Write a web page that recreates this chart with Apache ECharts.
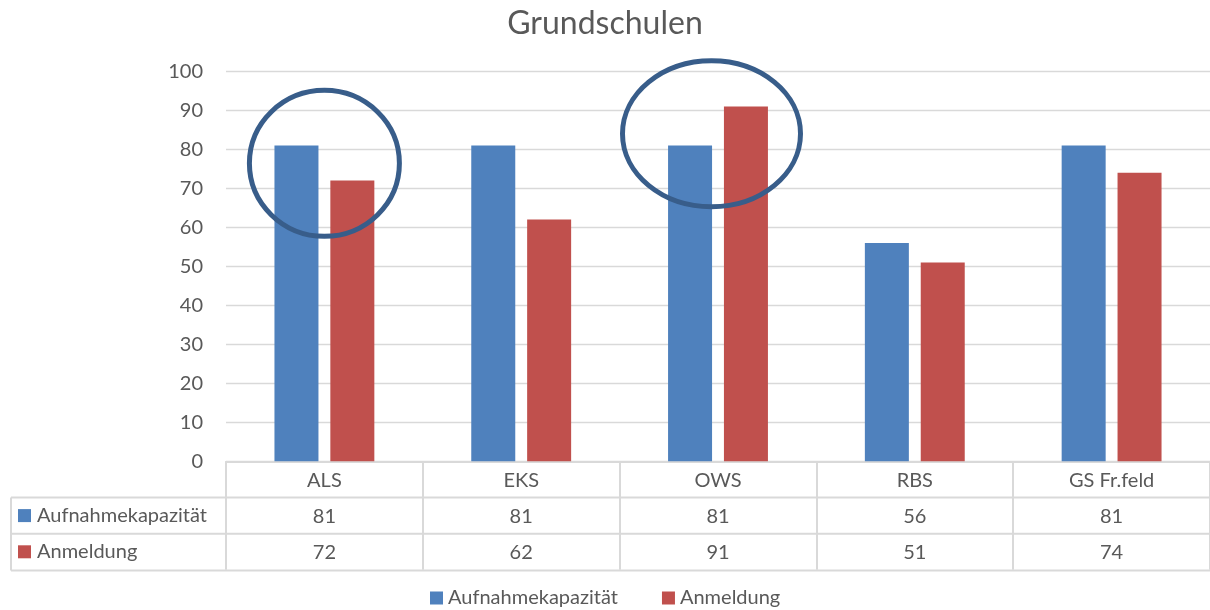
<!DOCTYPE html>
<html><head><meta charset="utf-8">
<script src="https://cdn.jsdelivr.net/npm/echarts@6/dist/echarts.min.js"></script>
<style>html,body{margin:0;padding:0;background:#fff}#c{width:1210px;height:610px}</style>
</head><body><div id="c"></div>
<script>
// ---- data ----
const categories = ['ALS', 'EKS', 'OWS', 'RBS', 'GS Fr.feld'];
const capacity = [81, 81, 81, 56, 81];
const registrations = [72, 62, 91, 51, 74];
const seriesNames = ['Aufnahmekapazität', 'Anmeldung'];
const seriesColors = ['#4F81BD', '#C0504D'];
const titleText = 'Grundschulen';
// hand-drawn highlight ellipses (annotation): centre in data coords
const highlights = [
  { category: 'ALS', value: 76.4, shift: 0, rx: 75, ry: 73 },
  { category: 'OWS', value: 84, shift: -6.5, rx: 89, ry: 73 }
];

// ---- layout ----
const FONT = 'Lato';
const FS = 20;
const TXT = '#595959';
const LINE = '#D9D9D9';
const GRID = { left: 226, right: -3, top: 71.3, bottom: 148.7 };
const ROW = 36.2;
const AXIS_Y = 610 - GRID.bottom;
const TABLE_LEFT = 11;

const chart = echarts.init(document.getElementById('c'), null, { renderer: 'canvas' });

const rowLabelAxis = (offset, values) => ({
  type: 'category', data: categories, position: 'bottom', offset: offset,
  axisLine: { show: false }, axisTick: { show: false }, splitLine: { show: false },
  axisLabel: { margin: 9, fontFamily: FONT, fontSize: FS, color: TXT,
    formatter: (v, i) => String(values[i]) }
});

const option = {
  animation: false,
  backgroundColor: '#fff',
  title: { text: titleText, left: 'center', top: 3,
    textStyle: { fontFamily: FONT, fontSize: 32, fontWeight: 'normal', color: TXT } },
  legend: { data: seriesNames, left: 425, top: 583, icon: 'rect', itemWidth: 13, itemHeight: 13,
    itemGap: 44, textStyle: { fontFamily: FONT, fontSize: FS, color: TXT } },
  grid: GRID,
  xAxis: [
    { type: 'category', data: categories, boundaryGap: true,
      axisLine: { show: true, lineStyle: { color: LINE, width: 2 } },
      axisTick: { show: true, interval: 0, length: 108.4, lineStyle: { color: LINE, width: 2 } },
      axisLabel: { margin: 9, fontFamily: FONT, fontSize: FS, color: TXT, interval: 0 } },
    rowLabelAxis(ROW, capacity),
    rowLabelAxis(ROW * 2, registrations)
  ],
  yAxis: { type: 'value', min: 0, max: 100, interval: 10,
    axisLine: { show: false }, axisTick: { show: false },
    splitLine: { lineStyle: { color: LINE, width: 1.3 } },
    axisLabel: { margin: 23, fontFamily: FONT, fontSize: FS, color: TXT } },
  series: [
    { name: seriesNames[0], type: 'bar', data: capacity, barWidth: 44, barGap: '27%',
      itemStyle: { color: seriesColors[0] } },
    { name: seriesNames[1], type: 'bar', data: registrations, barWidth: 44, barGap: '27%',
      itemStyle: { color: seriesColors[1] } }
  ]
};
chart.setOption(option);

// table lines and row headers
const graphics = [];
for (let r = 1; r <= 3; r++) {
  const y = AXIS_Y + ROW * r - (r === 3 ? -0.5 : 0);
  graphics.push({ type: 'line', shape: { x1: TABLE_LEFT, y1: y, x2: 1210, y2: y },
    style: { stroke: LINE, lineWidth: 2 }, silent: true });
}
graphics.push({ type: 'line', shape: { x1: TABLE_LEFT, y1: AXIS_Y + ROW, x2: TABLE_LEFT, y2: AXIS_Y + ROW * 3 + 0.5 },
  style: { stroke: LINE, lineWidth: 2 }, silent: true });
seriesNames.forEach((name, i) => {
  const cy = AXIS_Y + ROW * (i + 1.5);
  graphics.push({ type: 'rect', shape: { x: 18, y: cy - 6.5, width: 13, height: 13 },
    style: { fill: seriesColors[i] }, silent: true });
  graphics.push({ type: 'text', x: 37, y: cy,
    style: { text: name, fontFamily: FONT, fontSize: FS, fill: TXT, verticalAlign: 'middle', align: 'left' }, silent: true });
});
highlights.forEach(h => {
  const p = chart.convertToPixel({ xAxisIndex: 0, yAxisIndex: 0 }, [h.category, h.value]);
  graphics.push({ type: 'ellipse', shape: { cx: p[0] + h.shift, cy: p[1], rx: h.rx, ry: h.ry },
    style: { fill: null, stroke: '#385D8A', lineWidth: 5 }, z: 100, silent: true });
});
chart.setOption({ graphic: graphics });
</script>
</body></html>
